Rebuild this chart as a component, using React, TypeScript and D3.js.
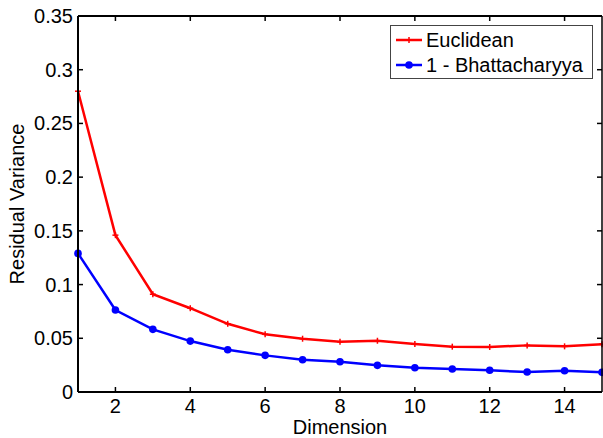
import React from 'react';
import * as d3 from 'd3';

// values
const dims = [1, 2, 3, 4, 5, 6, 7, 8, 9, 10, 11, 12, 13, 14, 15];
const euclidean = [0.28, 0.146, 0.091, 0.078, 0.0635, 0.0537, 0.0496, 0.0468, 0.0477, 0.0447, 0.0422, 0.0419, 0.0434, 0.0425, 0.0444];
const bhatt = [0.129, 0.0763, 0.0583, 0.0474, 0.0393, 0.0341, 0.030, 0.0282, 0.0248, 0.0226, 0.0214, 0.0202, 0.0186, 0.0198, 0.0183];
const xTicks = [2, 4, 6, 8, 10, 12, 14];
const yTicks = [0, 0.05, 0.1, 0.15, 0.2, 0.25, 0.3, 0.35];
const seriesNames = ['Euclidean', '1 - Bhattacharyya'];

const W = 603;
const H = 438;
const font = '"Liberation Sans", Arial, sans-serif';

const App = () => {
  const x = d3.scaleLinear().domain([1, 15]).range([78, 602]);
  const y = d3.scaleLinear().domain([0, 0.35]).range([392, 16]);

  const line = d3.line<number>()
    .x((d, i) => x(dims[i]))
    .y(d => y(d));

  const [x0, x1] = x.range();
  const [y0, y1] = y.range();
  const tickLen = 5;

  return (
    <svg width={W} height={H} style={{ position: 'absolute', left: 0, top: 0, background: '#fff' }} fontFamily={font}>
      {/* series */}
      <path d={line(euclidean) || ''} fill="none" stroke="#ff0000" strokeWidth={2.5} />
      {euclidean.map((v, i) => (
        <g key={'e' + i} stroke="#ff0000" strokeWidth={1.5}>
          <line x1={x(dims[i]) - 3} x2={x(dims[i]) + 3} y1={y(v)} y2={y(v)} />
          <line x1={x(dims[i])} x2={x(dims[i])} y1={y(v) - 3} y2={y(v) + 3} />
        </g>
      ))}
      <path d={line(bhatt) || ''} fill="none" stroke="#0000ff" strokeWidth={2.5} />
      {bhatt.map((v, i) => (
        <circle key={'b' + i} cx={x(dims[i])} cy={y(v)} r={3.8} fill="#0000ff" />
      ))}

      {/* ticks */}
      {xTicks.map(t => (
        <g key={'xt' + t} stroke="#000" strokeWidth={1.5}>
          <line x1={x(t)} x2={x(t)} y1={y0} y2={y0 - tickLen} />
          <line x1={x(t)} x2={x(t)} y1={y1} y2={y1 + tickLen} />
        </g>
      ))}
      {yTicks.map(t => (
        <g key={'yt' + t} stroke="#000" strokeWidth={1.5}>
          <line x1={x0} x2={x0 + tickLen} y1={y(t)} y2={y(t)} />
          <line x1={x1} x2={x1 - tickLen} y1={y(t)} y2={y(t)} />
        </g>
      ))}

      {/* box */}
      <line x1={x0} x2={x1} y1={y1} y2={y1} stroke="#000" strokeWidth={2} />
      <line x1={x1} x2={x1} y1={y1} y2={y0} stroke="#000" strokeWidth={1.5} />
      <line x1={x0} x2={x1} y1={y0} y2={y0} stroke="#000" strokeWidth={2} />
      <line x1={x0} x2={x0} y1={y1} y2={y0} stroke="#000" strokeWidth={2} />

      {/* tick labels */}
      {xTicks.map(t => (
        <text key={'xl' + t} x={x(t)} y={413} fontSize={20} textAnchor="middle" fill="#000">{t}</text>
      ))}
      {yTicks.map(t => (
        <text key={'yl' + t} x={73} y={y(t)} dy="0.35em" fontSize={20} textAnchor="end" fill="#000">{String(t)}</text>
      ))}

      {/* axis titles */}
      <text x={(x0 + x1) / 2} y={434} fontSize={20} textAnchor="middle" fill="#000">Dimension</text>
      <text transform={`translate(24,${(y0 + y1) / 2}) rotate(-90)`} fontSize={20} textAnchor="middle" fill="#000">Residual Variance</text>

      {/* legend */}
      <rect x={390.5} y={25.5} width={202} height={53} fill="#fff" stroke="#444" strokeWidth={1} />
      {seriesNames.map((name, i) => {
        const cy = 40 + i * 25;
        const color = i === 0 ? '#ff0000' : '#0000ff';
        return (
          <g key={name}>
            <line x1={396} x2={422} y1={cy} y2={cy} stroke={color} strokeWidth={2.5} />
            {i === 0 ? (
              <g stroke={color} strokeWidth={1.5}>
                <line x1={406} x2={412} y1={cy} y2={cy} />
                <line x1={409} x2={409} y1={cy - 3} y2={cy + 3} />
              </g>
            ) : (
              <circle cx={409} cy={cy} r={3.8} fill={color} />
            )}
            <text x={426} y={cy + 7} fontSize={20} fill="#000">{name}</text>
          </g>
        );
      })}
    </svg>
  );
};

export default App;
